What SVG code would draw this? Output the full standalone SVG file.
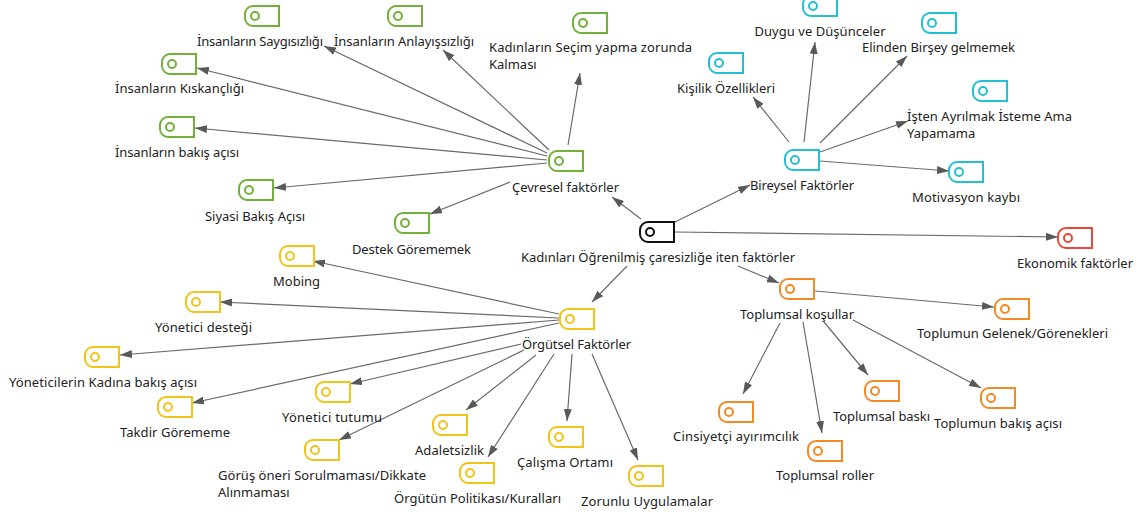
<svg xmlns="http://www.w3.org/2000/svg" xmlns:xlink="http://www.w3.org/1999/xlink" width="1143" height="519" viewBox="0 0 1143 519">
<style>
.lbl{font-family:"Noto Sans","Open Sans","DejaVu Sans",sans-serif;font-size:13px;fill:#222;stroke:none;text-anchor:middle}
.lft{text-anchor:start}
.conn line{stroke:#6a6a6a;stroke-width:1.2;marker-end:url(#arr)}
.ic{fill:#fff;stroke-width:2}
.k{stroke:#111}.k .ic{stroke-width:2.6}
.gr{stroke:#72b03a}
.cy{stroke:#22c0d2}
.rd{stroke:#e8473a}
.ye{stroke:#f1c419}
.or{stroke:#f28a25}
</style>
<defs>
<marker id="arr" markerUnits="userSpaceOnUse" markerWidth="12" markerHeight="8" refX="12" refY="4" orient="auto">
<path d="M0,0 L12,4 L0,8 Z" fill="#595959" stroke="none"/>
</marker>
<g id="tag"><path class="ic" d="M8,0 H34 V20 H8 A8,8 0 0 1 0,12 V8 A8,8 0 0 1 8,0 Z"/><circle class="ic" cx="10" cy="10" r="4"/></g>
</defs>
<rect width="1143" height="519" fill="#fff"/>
<g id="connectors" class="conn">
<line x1="641" y1="219" x2="612" y2="197"/>
<line x1="675" y1="222" x2="750" y2="185"/>
<line x1="675" y1="232" x2="1058" y2="237"/>
<line x1="627" y1="266" x2="592" y2="302"/>
<line x1="738" y1="266" x2="779" y2="283"/>
<line x1="547" y1="153" x2="324" y2="46"/>
<line x1="549" y1="150" x2="443" y2="50"/>
<line x1="568" y1="145" x2="580" y2="73"/>
<line x1="547" y1="156" x2="197" y2="68"/>
<line x1="547" y1="160" x2="195" y2="128"/>
<line x1="547" y1="163" x2="274" y2="188"/>
<line x1="510" y1="182" x2="430" y2="214"/>
<line x1="789" y1="142" x2="753" y2="97"/>
<line x1="804" y1="142" x2="815" y2="42"/>
<line x1="820" y1="143" x2="907" y2="56"/>
<line x1="820" y1="152" x2="908" y2="121"/>
<line x1="820" y1="161" x2="949" y2="171"/>
<line x1="559" y1="314" x2="313" y2="261"/>
<line x1="559" y1="318" x2="220" y2="302"/>
<line x1="559" y1="320" x2="120" y2="355"/>
<line x1="559" y1="323" x2="192" y2="403"/>
<line x1="521" y1="344" x2="350" y2="384"/>
<line x1="524" y1="350" x2="339" y2="440"/>
<line x1="536" y1="355" x2="466" y2="410"/>
<line x1="554" y1="354" x2="488" y2="457"/>
<line x1="572" y1="354" x2="567" y2="421"/>
<line x1="592" y1="354" x2="638" y2="460"/>
<line x1="815" y1="291" x2="994" y2="307"/>
<line x1="780" y1="323" x2="743" y2="394"/>
<line x1="803" y1="322" x2="822" y2="433"/>
<line x1="824" y1="322" x2="868" y2="375"/>
<line x1="853" y1="320" x2="981" y2="388"/>
</g>
<g id="n-center" class="k"><use xlink:href="#tag" x="640" y="222"/><text class="lbl" x="658" y="262" textLength="274">Kadınları Öğrenilmiş çaresizliğe iten faktörler</text></g>
<g id="n-cevresel" class="gr"><use xlink:href="#tag" x="549" y="151"/><text class="lbl" x="565.5" y="192" textLength="107">Çevresel faktörler</text></g>
<g id="n-saygisizligi" class="gr"><use xlink:href="#tag" x="245" y="6"/><text class="lbl" x="260" y="46" textLength="126">İnsanların Saygısızlığı</text></g>
<g id="n-anlayissizligi" class="gr"><use xlink:href="#tag" x="388" y="6"/><text class="lbl" x="404" y="46" textLength="140">İnsanların Anlayışsızlığı</text></g>
<g id="n-secim" class="gr"><use xlink:href="#tag" x="573" y="13"/><text class="lbl lft" x="489" y="52"><tspan x="489" textLength="203">Kadınların Seçim yapma zorunda</tspan><tspan x="489" dy="16.5">Kalması</tspan></text></g>
<g id="n-kiskancligi" class="gr"><use xlink:href="#tag" x="162" y="54"/><text class="lbl" x="179.5" y="93" textLength="129">İnsanların Kıskançlığı</text></g>
<g id="n-bakis" class="gr"><use xlink:href="#tag" x="160" y="117"/><text class="lbl" x="177" y="157" textLength="124">İnsanların bakış açısı</text></g>
<g id="n-siyasi" class="gr"><use xlink:href="#tag" x="239" y="180"/><text class="lbl" x="255" y="221" textLength="100">Siyasi Bakış Açısı</text></g>
<g id="n-destek" class="gr"><use xlink:href="#tag" x="395" y="213"/><text class="lbl" x="411.5" y="254" textLength="119">Destek Görememek</text></g>
<g id="n-bireysel" class="cy"><use xlink:href="#tag" x="785" y="150"/><text class="lbl" x="802" y="190" textLength="104">Bireysel Faktörler</text></g>
<g id="n-duygu" class="cy"><use xlink:href="#tag" x="803" y="-4"/><text class="lbl" x="820" y="36" textLength="131">Duygu ve Düşünceler</text></g>
<g id="n-elinden" class="cy"><use xlink:href="#tag" x="922" y="13"/><text class="lbl" x="938.5" y="52" textLength="153">Elinden Birşey gelmemek</text></g>
<g id="n-kisilik" class="cy"><use xlink:href="#tag" x="709" y="53"/><text class="lbl" x="726" y="93" textLength="98">Kişilik Özellikleri</text></g>
<g id="n-isten" class="cy"><use xlink:href="#tag" x="973" y="81"/><text class="lbl lft" x="907" y="121"><tspan x="907" textLength="165">İşten Ayrılmak İsteme Ama</tspan><tspan x="907" dy="16.5">Yapamama</tspan></text></g>
<g id="n-motivasyon" class="cy"><use xlink:href="#tag" x="949" y="162"/><text class="lbl" x="966" y="202" textLength="108">Motivasyon kaybı</text></g>
<g id="n-ekonomik" class="rd"><use xlink:href="#tag" x="1058" y="228"/><text class="lbl" x="1075" y="268" textLength="116">Ekonomik faktörler</text></g>
<g id="n-orgutsel" class="ye"><use xlink:href="#tag" x="560" y="309"/><text class="lbl" x="576.5" y="349" textLength="109">Örgütsel Faktörler</text></g>
<g id="n-mobing" class="ye"><use xlink:href="#tag" x="280" y="246"/><text class="lbl" x="296.5" y="286" textLength="47">Mobing</text></g>
<g id="n-yonetici-destegi" class="ye"><use xlink:href="#tag" x="186" y="292"/><text class="lbl" x="203.5" y="332" textLength="97">Yönetici desteği</text></g>
<g id="n-yoneticilerin" class="ye"><use xlink:href="#tag" x="85" y="347"/><text class="lbl" x="103" y="387" textLength="188">Yöneticilerin Kadına bakış açısı</text></g>
<g id="n-takdir" class="ye"><use xlink:href="#tag" x="158" y="397"/><text class="lbl" x="175" y="437" textLength="110">Takdir Görememe</text></g>
<g id="n-tutumu" class="ye"><use xlink:href="#tag" x="316" y="382"/><text class="lbl" x="332" y="422" textLength="100">Yönetici tutumu</text></g>
<g id="n-gorus" class="ye"><use xlink:href="#tag" x="305" y="440"/><text class="lbl lft" x="218" y="480"><tspan x="218" textLength="208">Görüş öneri Sorulmaması/Dikkate</tspan><tspan x="218" dy="16.5">Alınmaması</tspan></text></g>
<g id="n-adaletsizlik" class="ye"><use xlink:href="#tag" x="433" y="415"/><text class="lbl" x="449.5" y="455" textLength="69">Adaletsizlik</text></g>
<g id="n-orgutun" class="ye"><use xlink:href="#tag" x="460" y="463"/><text class="lbl" x="477.5" y="503" textLength="167">Örgütün Politikası/Kuralları</text></g>
<g id="n-calisma" class="ye"><use xlink:href="#tag" x="549" y="427"/><text class="lbl" x="565" y="467" textLength="96">Çalışma Ortamı</text></g>
<g id="n-zorunlu" class="ye"><use xlink:href="#tag" x="629" y="466"/><text class="lbl" x="647" y="506" textLength="132">Zorunlu Uygulamalar</text></g>
<g id="n-toplumsal-kosullar" class="or"><use xlink:href="#tag" x="780" y="279"/><text class="lbl" x="797" y="319" textLength="114">Toplumsal koşullar</text></g>
<g id="n-gelenek" class="or"><use xlink:href="#tag" x="995" y="299"/><text class="lbl" x="1012.5" y="338" textLength="191">Toplumun Gelenek/Görenekleri</text></g>
<g id="n-cinsiyetci" class="or"><use xlink:href="#tag" x="719" y="402"/><text class="lbl" x="736" y="441" textLength="126">Cinsiyetçi ayırımcılık</text></g>
<g id="n-baski" class="or"><use xlink:href="#tag" x="865" y="381"/><text class="lbl" x="881.5" y="421" textLength="97">Toplumsal baskı</text></g>
<g id="n-toplumun-bakis" class="or"><use xlink:href="#tag" x="981" y="388"/><text class="lbl" x="998" y="428" textLength="128">Toplumun bakış açısı</text></g>
<g id="n-roller" class="or"><use xlink:href="#tag" x="808" y="441"/><text class="lbl" x="825" y="480" textLength="98">Toplumsal roller</text></g>
</svg>
